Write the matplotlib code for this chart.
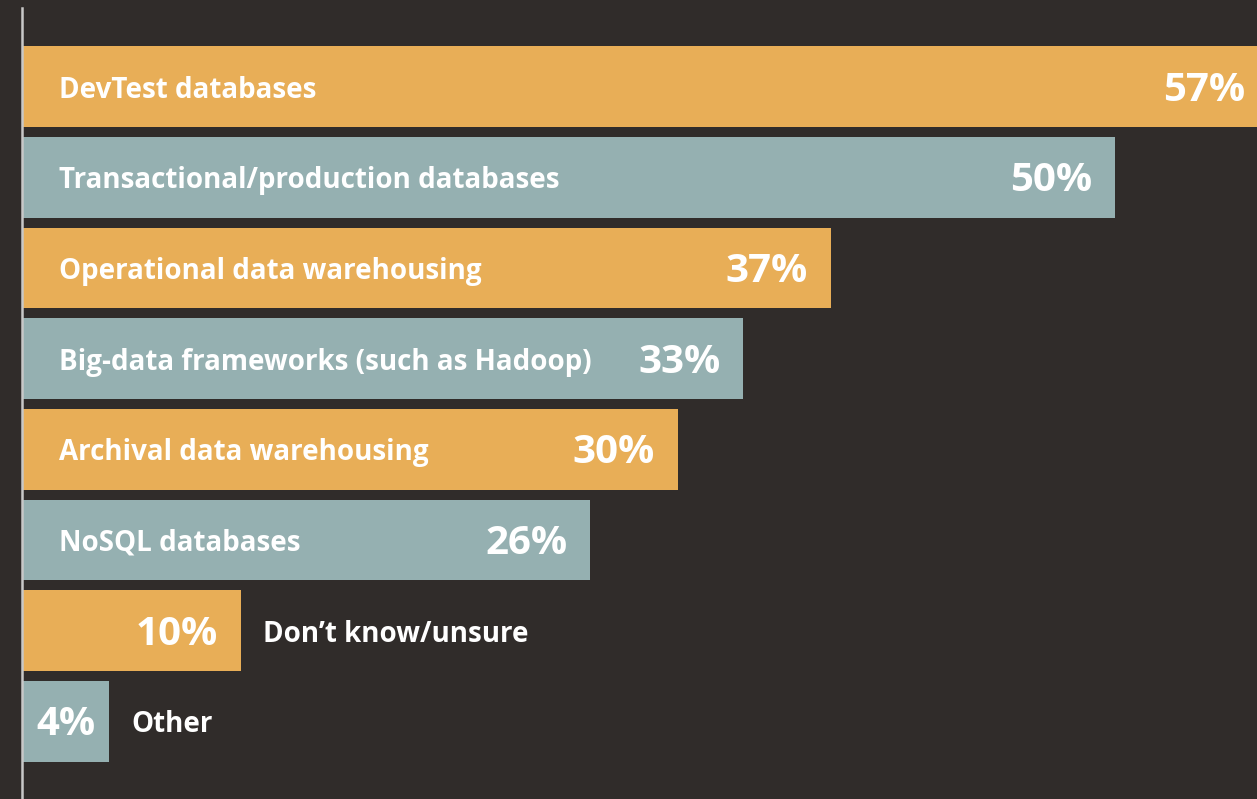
import matplotlib.pyplot as plt
from matplotlib.transforms import offset_copy

categories = ["DevTest databases", "Transactional/production databases",
              "Operational data warehousing", "Big-data frameworks (such as Hadoop)",
              "Archival data warehousing", "NoSQL databases",
              "Don\u2019t know/unsure", "Other"]
values = [57, 50, 37, 33, 30, 26, 10, 4]
inside = [True, True, True, True, True, True, False, False]

bg = "#302c2a"
orange = "#e8ae57"
grey = "#95b0b1"
colors = [orange if i % 2 == 0 else grey for i in range(len(values))]

plt.rcParams['font.family'] = ['Open Sans', 'DejaVu Sans']

fig = plt.figure(figsize=(12.57, 7.99), dpi=100, facecolor=bg)
ax = fig.add_axes([22 / 1257, 0, 1 - 22 / 1257, 791 / 799])
ax.set_facecolor(bg)

y = list(range(len(values)))
ax.barh(y, values, height=0.89, color=colors, zorder=2)
ax.set_xlim(0, 56.5)
ax.set_ylim(7.856, -0.866)

for s in ["top", "right", "bottom"]:
    ax.spines[s].set_visible(False)
ax.spines["left"].set_color("#c8c8c8")
ax.spines["left"].set_linewidth(1.8)
ax.spines["left"].set_zorder(3)
ax.set_xticks([])
ax.set_yticks([])

for i, (cat, v, ins) in enumerate(zip(categories, values, inside)):
    if v < 5:
        pct = offset_copy(ax.transData, fig=fig, x=0, y=-14, units="dots")
        ax.text(v / 2, i, f"{v}%", transform=pct, ha="center", va="baseline",
                color="white", fontsize=29, fontweight="bold", zorder=4)
    else:
        pct = offset_copy(ax.transData, fig=fig, x=-23, y=-14, units="dots")
        ax.text(v, i, f"{v}%", transform=pct, ha="right", va="baseline",
                color="white", fontsize=29, fontweight="bold", zorder=4)
    if ins:
        lab = offset_copy(ax.transData, fig=fig, x=37, y=-11, units="dots")
        ax.text(0, i, cat, transform=lab, ha="left", va="baseline", color="white",
                fontsize=20, fontweight="bold", zorder=4)
    else:
        lab = offset_copy(ax.transData, fig=fig, x=22, y=-11, units="dots")
        ax.text(v, i, cat, transform=lab, ha="left", va="baseline", color="white",
                fontsize=20, fontweight="bold", zorder=4)

fig.savefig("out.png", dpi=100, facecolor=bg)
